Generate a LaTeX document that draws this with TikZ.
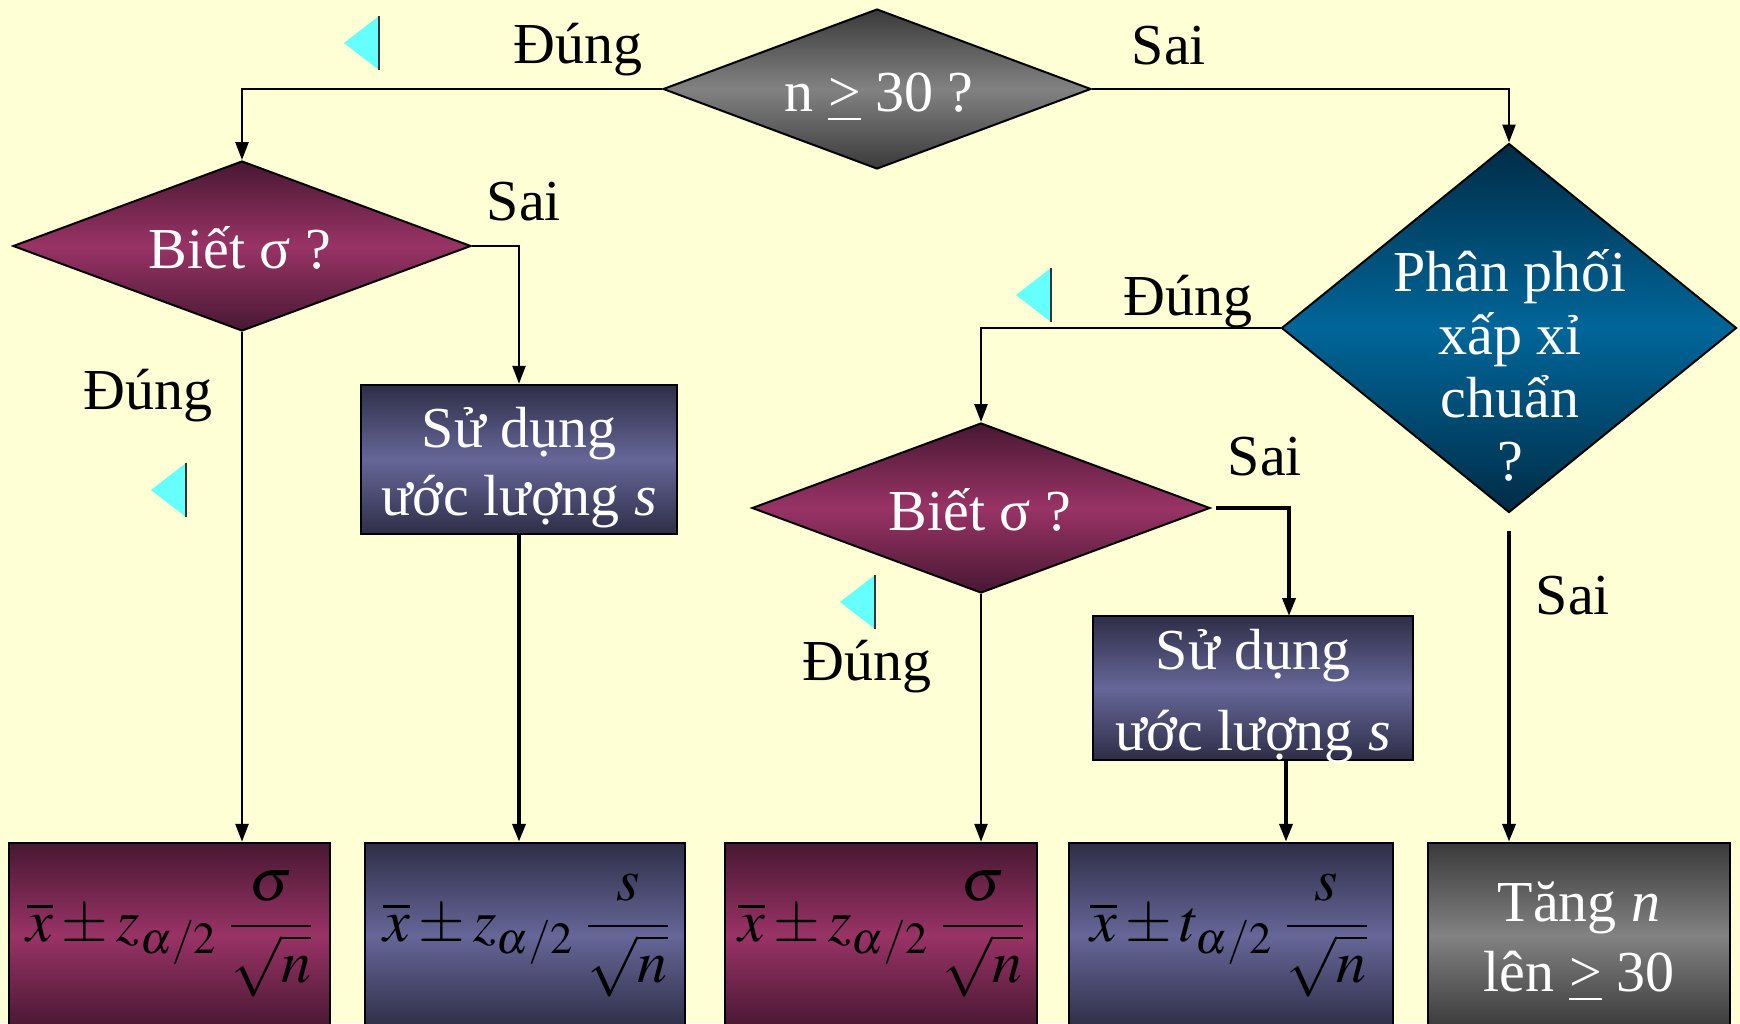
\documentclass[tikz,border=0pt]{standalone}
\usepackage{mathptmx}
\usepackage{fontspec}
\setmainfont{Liberation Serif}
\usetikzlibrary{shapes.geometric,arrows.meta}
\definecolor{bg}{RGB}{255,255,213}
\definecolor{marD}{RGB}{72,24,50}
\definecolor{marM}{RGB}{153,51,102}
\definecolor{slD}{RGB}{46,46,72}
\definecolor{slM}{RGB}{102,102,152}
\definecolor{blD}{RGB}{0,44,70}
\definecolor{blM}{RGB}{0,102,153}
\definecolor{grD}{RGB}{58,58,58}
\definecolor{grM}{RGB}{130,130,130}
\definecolor{cyantri}{RGB}{102,255,255}
\newcommand{\bigfont}{\fontsize{58}{63}\selectfont}
\newcommand{\mathfnt}{\fontsize{60}{72}\selectfont}
\tikzset{
  dia/.style={diamond, draw=black, line width=2pt, inner sep=0pt},
  boxshape/.style={rectangle, draw=black, line width=2.5pt, inner sep=0pt},
  maroon/.style={top color=marD, bottom color=marD, middle color=marM},
  slate/.style={top color=slD, bottom color=slD, middle color=slM},
  bluish/.style={top color=blD, bottom color=blD, middle color=blM},
  grayish/.style={top color=grD, bottom color=grD, middle color=grM},
  wtxt/.style={text=white, font=\bigfont, align=center, anchor=base, inner sep=0pt},
  btxt/.style={text=black, font=\bigfont, anchor=base, inner sep=0pt},
  mtxt/.style={text=black, font=\mathfnt, anchor=base, inner sep=0pt},
  conn/.style={draw=black, line width=2.6pt, -{Triangle[length=18pt,width=13pt]}},
  thickconn/.style={conn, line width=3.8pt},
  backbtn/.style={fill=cyantri, draw=none},
}
\begin{document}
\begin{tikzpicture}[x=1pt,y=-1pt]
\clip (0,0) rectangle (1740,1023);
\fill[bg] (0,0) rectangle (1740,1023);

% decision diamonds
\node[dia, grayish, minimum width=428pt, minimum height=160pt] (top) at (877,89) {};
\node[dia, maroon, minimum width=458pt, minimum height=170pt] (leftdia) at (242,246) {};
\node[dia, bluish, minimum width=455pt, minimum height=369pt] (bluedia) at (1509,328) {};
\node[dia, maroon, minimum width=458pt, minimum height=170pt] (middia) at (981,508) {};

% intermediate boxes
\node[boxshape, slate, minimum width=316pt, minimum height=149pt] (sd1) at (519,459.5) {};
\node[boxshape, slate, minimum width=320pt, minimum height=144pt] (sd2) at (1253,688) {};

% result boxes
\node[boxshape, maroon, minimum width=321pt, minimum height=185pt] (f1) at (169.5,935.5) {};
\node[boxshape, slate, minimum width=320pt, minimum height=185pt] (f2) at (525,935.5) {};
\node[boxshape, maroon, minimum width=312pt, minimum height=185pt] (f3) at (881,935.5) {};
\node[boxshape, slate, minimum width=324pt, minimum height=185pt] (f4) at (1231,935.5) {};
\node[boxshape, grayish, minimum width=302pt, minimum height=185pt] (f5) at (1579,935.5) {};

% texts inside shapes (base anchor = last line baseline)
\node[wtxt] (toptxt) at (879,111) {n \underline{>} 30 ?};
\node[wtxt] (lefttxt) at (240,268) {Biết σ ?};
\node[wtxt] (midtxt) at (980,530) {Biết σ ?};
\node[wtxt] (bluetxt) at (1510,480) {Phân phối\\xấp xỉ\\chuẩn\\?};
\node[wtxt, font=\fontsize{58}{68}\selectfont] (sd1txt) at (519,515) {Sử dụng\\ước lượng \textit{s}};
\node[wtxt, font=\fontsize{58}{81}\selectfont] (sd2txt) at (1253,750) {Sử dụng\\ước lượng \textit{s}};
\node[wtxt, font=\fontsize{58}{70}\selectfont] (f5txt) at (1579,991) {Tăng \textit{n}\\lên \underline{>} 30};

\node[mtxt] (f1txt) at (169.5,941) {$\overline{x}\pm z_{\alpha/2}\;\displaystyle\frac{\sigma}{\sqrt{n}}$};
\node[mtxt] (f2txt) at (526,941) {$\overline{x}\pm z_{\alpha/2}\;\displaystyle\frac{s}{\sqrt{n}}$};
\node[mtxt] (f3txt) at (881,941) {$\overline{x}\pm z_{\alpha/2}\;\displaystyle\frac{\sigma}{\sqrt{n}}$};
\node[mtxt] (f4txt) at (1229,941) {$\overline{x}\pm t_{\alpha/2}\;\displaystyle\frac{s}{\sqrt{n}}$};

% branch labels
\node[btxt] (l1) at (578,63) {Đúng};
\node[btxt] (l2) at (1169,64) {Sai};
\node[btxt] (l3) at (524,220) {Sai};
\node[btxt] (l4) at (148,409) {Đúng};
\node[btxt] (l5) at (1188,315) {Đúng};
\node[btxt] (l6) at (1265,475) {Sai};
\node[btxt] (l7) at (867,680) {Đúng};
\node[btxt] (l8) at (1573,614) {Sai};

% connectors
\coordinate (sd2in) at (1289,616);
\coordinate (sd2out) at (1286,760);
\draw[conn] (top.west) -| (leftdia.north);
\draw[conn] (top.east) -| (bluedia.north);
\draw[conn] (leftdia.east) -| (sd1.north);
\draw[conn] (leftdia.south) -- (leftdia.south |- f1.north);
\draw[thickconn] (sd1.south) -- (sd1.south |- f2.north);
\draw[conn] (bluedia.west) -| (middia.north);
\draw[thickconn] ([xshift=5pt]middia.east) -| (sd2in);
\draw[conn] (middia.south) -- (middia.south |- f3.north);
\draw[thickconn] (sd2out) -- (sd2out |- f4.north);
\draw[thickconn] ([yshift=-17pt]bluedia.south) -- (bluedia.south |- f5.north);

% back-button triangles
\foreach \tx/\ty in {379/43, 186/490, 1051/295, 875/602}{
  \fill[backbtn] (\tx,\ty-27) -- (\tx-35,\ty) -- (\tx,\ty+27) -- cycle;
  \draw[line width=2.5pt, black!80] (\tx,\ty-27) -- (\tx,\ty+27);
}
\end{tikzpicture}
\end{document}
